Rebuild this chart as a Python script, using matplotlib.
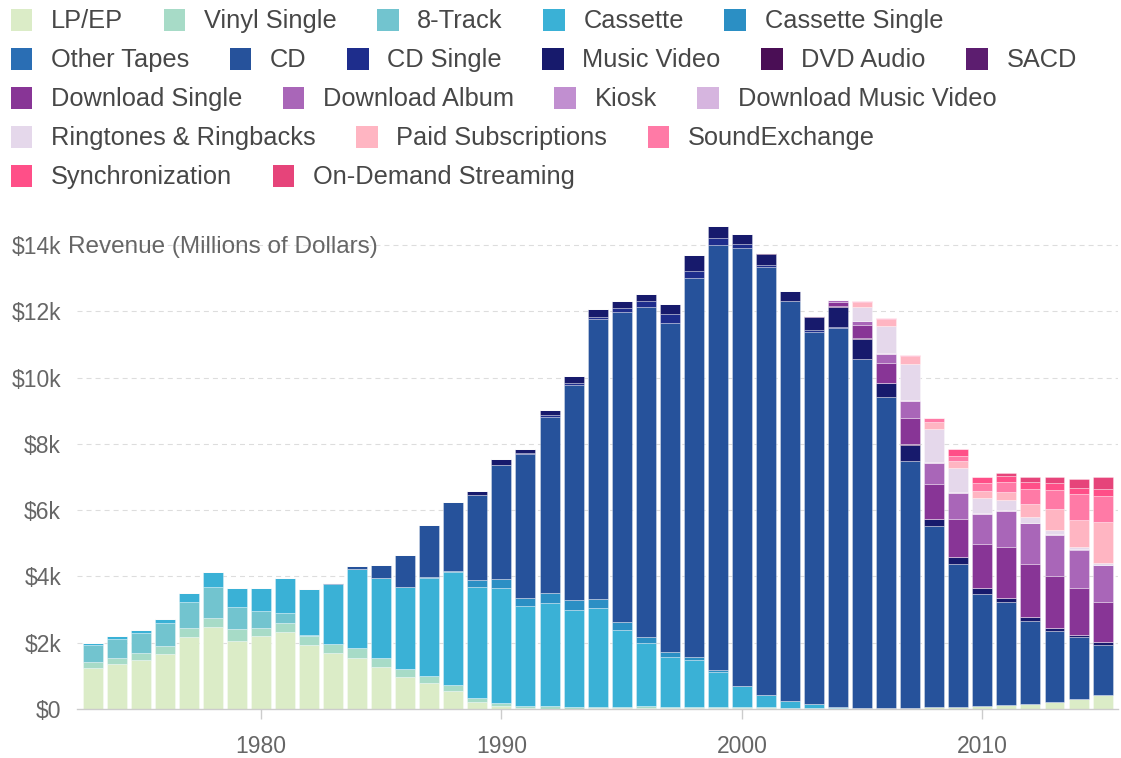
import matplotlib
matplotlib.use('Agg')
import matplotlib.pyplot as plt
import matplotlib.transforms as mtransforms
from matplotlib.patches import Rectangle
import numpy as np

plt.rcParams['font.family'] = ['Liberation Sans', 'DejaVu Sans']
plt.rcParams['lines.scale_dashes'] = False

years = list(range(1973, 2016))

categories = ["LP/EP", "Vinyl Single", "8-Track", "Cassette", "Cassette Single",
              "Other Tapes", "CD", "CD Single", "Music Video", "DVD Audio", "SACD",
              "Download Single", "Download Album", "Kiosk", "Download Music Video",
              "Ringtones & Ringbacks", "Paid Subscriptions", "SoundExchange",
              "Synchronization", "On-Demand Streaming"]

colors = ["#dbecc7", "#a7dbc7", "#72c4cf", "#3ab1d6", "#2b8fc4",
          "#2a6eb4", "#26529b", "#1e2d8c", "#171a6c", "#4a0e55", "#5c1d6f",
          "#883596", "#a966b8", "#c18fd0", "#d6b5df",
          "#e5d8eb", "#ffb5c2", "#ff7aa6", "#ff4f88", "#e6447a"]

# values in millions of dollars, 1973..2015
lp_ep = [1250, 1350, 1480, 1660, 2180, 2465, 2050, 2200, 2330, 1920,
         1680, 1540, 1280, 980, 790, 540, 220, 86, 29, 14,
         11, 18, 25, 37, 33, 34, 32, 28, 27, 21,
         22, 19, 14, 16, 23, 56, 60, 90, 120, 160,
         215, 310, 410]
vinyl_single = [180, 200, 200, 250, 255, 270, 355, 230, 270, 290,
                270, 290, 270, 220, 210, 180, 116, 94, 64, 66,
                51, 47, 47, 48, 28, 26, 28, 26, 31, 24,
                22, 20, 13, 11, 4, 3, 3, 3, 5, 5,
                5, 6, 6]
eight_track = [490, 550, 600, 680, 800, 955, 680, 530, 300, 20] + [0] * 33
cassette = [80, 90, 90, 130, 255, 435, 575, 695, 1040, 1380,
            1820, 2380, 2410, 2490, 2960, 3420, 3350, 3472, 3020, 3116,
            2916, 2977, 2304, 1905, 1523, 1420, 1062, 626, 363, 210,
            108, 24, 13, 4, 3, 1, 0, 0, 0, 0,
            0, 0, 0]
cassette_single = [0] * 14 + [14, 9, 194, 257, 230, 298, 299, 274, 236, 190,
                              134, 94, 48, 4] + [0] * 15
other_tapes = [0] * 43
cd = [0] * 10 + [17, 103, 390, 950, 1590, 2100, 2590, 3450, 4340, 5330,
                 6510, 8440, 9377, 9935, 9915, 11416, 12816, 13215, 12909, 12044,
                 11233, 11447, 10520, 9372, 7452, 5471, 4318, 3390, 3110, 2490,
                 2130, 1860, 1530]
cd_single = [0] * 17 + [6, 35, 45, 45, 70, 111, 185, 273, 213, 222,
                        142, 79, 20, 36, 15, 11, 7, 12, 3, 1,
                        1, 0, 0, 0, 0, 0]
music_video = [0] * 16 + [115, 172, 118, 157, 214, 231, 220, 236, 323, 508,
                          377, 281, 329, 288, 400, 600, 600, 430, 485, 200,
                          200, 170, 120, 110, 80, 70, 80]
dvd_audio = [0] * 28 + [6, 9, 8, 6, 3, 2, 3, 3, 1, 1, 0, 0, 0, 0, 0]
sacd = [0] * 30 + [26, 16, 10, 3, 1] + [0] * 8
download_single = [0] * 31 + [140, 390, 590, 800, 1050, 1155, 1320, 1520, 1600, 1590, 1410, 1210]
download_album = [0] * 31 + [50, 120, 280, 500, 630, 790, 905, 1095, 1240, 1230, 1155, 1095]
kiosk = [0] * 32 + [1, 2, 3, 3, 2, 6, 2, 2, 2, 2, 2]
download_mv = [0] * 32 + [2, 26, 29, 28, 22, 20, 20, 17, 15, 12, 10]
ringtones = [0] * 32 + [440, 800, 1085, 1015, 715, 450, 300, 180, 120, 50, 50]
paid_subs = [0] * 32 + [150, 210, 240, 200, 220, 220, 250, 390, 650, 820, 1240]
soundexchange = [0] * 32 + [20, 33, 37, 110, 155, 250, 300, 450, 575, 785, 800]
synchronization = [0] * 36 + [200, 185, 200, 200, 200, 200, 210]
on_demand = [0] * 38 + [90, 150, 200, 270, 350]

series = [lp_ep, vinyl_single, eight_track, cassette, cassette_single,
          other_tapes, cd, cd_single, music_video, dvd_audio, sacd,
          download_single, download_album, kiosk, download_mv,
          ringtones, paid_subs, soundexchange, synchronization, on_demand]

y_ticks = [0, 2000, 4000, 6000, 8000, 10000, 12000, 14000]
x_ticks = [1980, 1990, 2000, 2010]

W, H = 1121, 758
fig = plt.figure(figsize=(W / 100, H / 100), dpi=100)
fig.patch.set_facecolor('white')
ax = fig.add_axes([77 / W, (H - 709) / H, (1118 - 77) / W, (709 - 225) / H])

x = np.array(years, dtype=float)
bottom = np.zeros(len(years))
for vals, col in zip(series, colors):
    v = np.array(vals, dtype=float)
    ax.bar(x, v, bottom=bottom, width=0.83, color=col, edgecolor=(1, 1, 1, 0.45),
           linewidth=0.5, zorder=3)
    bottom += v

ax.set_xlim(1972.35, 2015.64)
ax.set_ylim(0, 14603)

for s in ['top', 'right', 'left']:
    ax.spines[s].set_visible(False)
ax.spines['bottom'].set_color('#cccccc')
ax.spines['bottom'].set_linewidth(1.0)
ax.spines['bottom'].set_zorder(4)

ax.set_yticks(y_ticks)
ax.set_yticklabels(['$0' if t == 0 else '${}k'.format(t // 1000) for t in y_ticks])
ax.tick_params(axis='y', length=0, pad=11.5, labelsize=16.5, labelcolor='#666666')
ax.set_xticks(x_ticks)
ax.set_xticklabels([str(t) for t in x_ticks])
ax.tick_params(axis='x', length=7.5, width=1.0, color='#cccccc', pad=11,
               labelsize=16.5, labelcolor='#666666')

for t in y_ticks[1:]:
    ax.axhline(t, color='#dddddd', linewidth=0.8, dashes=(3.6, 2.9), zorder=1)

trans = mtransforms.blended_transform_factory(fig.transFigure, ax.transData)
ax.text(68 / W, 14000, "Revenue (Millions of Dollars)", transform=trans,
        fontsize=17.5, color='#666666', va='center_baseline', ha='left', zorder=5)

# legend (flow layout)
renderer = fig.canvas.get_renderer()
rows = [5, 6, 4, 3, 2]
row_y = [20, 59, 98, 137, 176]
i = 0
for r, n in enumerate(rows):
    xp = 10.7
    yc = row_y[r]
    for k in range(n):
        fig.patches.append(Rectangle((xp / W, (H - yc - 10.8) / H), 21.6 / W, 21.6 / H,
                                     transform=fig.transFigure, facecolor=colors[i],
                                     edgecolor='none'))
        t = fig.text((xp + 40.2) / W, (H - yc - 8.2) / H, categories[i], fontsize=18.3,
                     color='#474747', va='baseline', ha='left')
        bb = t.get_window_extent(renderer=renderer)
        xp = xp + 40.2 + bb.width + 40.5
        i += 1

fig.savefig('out.png', dpi=100, facecolor='white')
